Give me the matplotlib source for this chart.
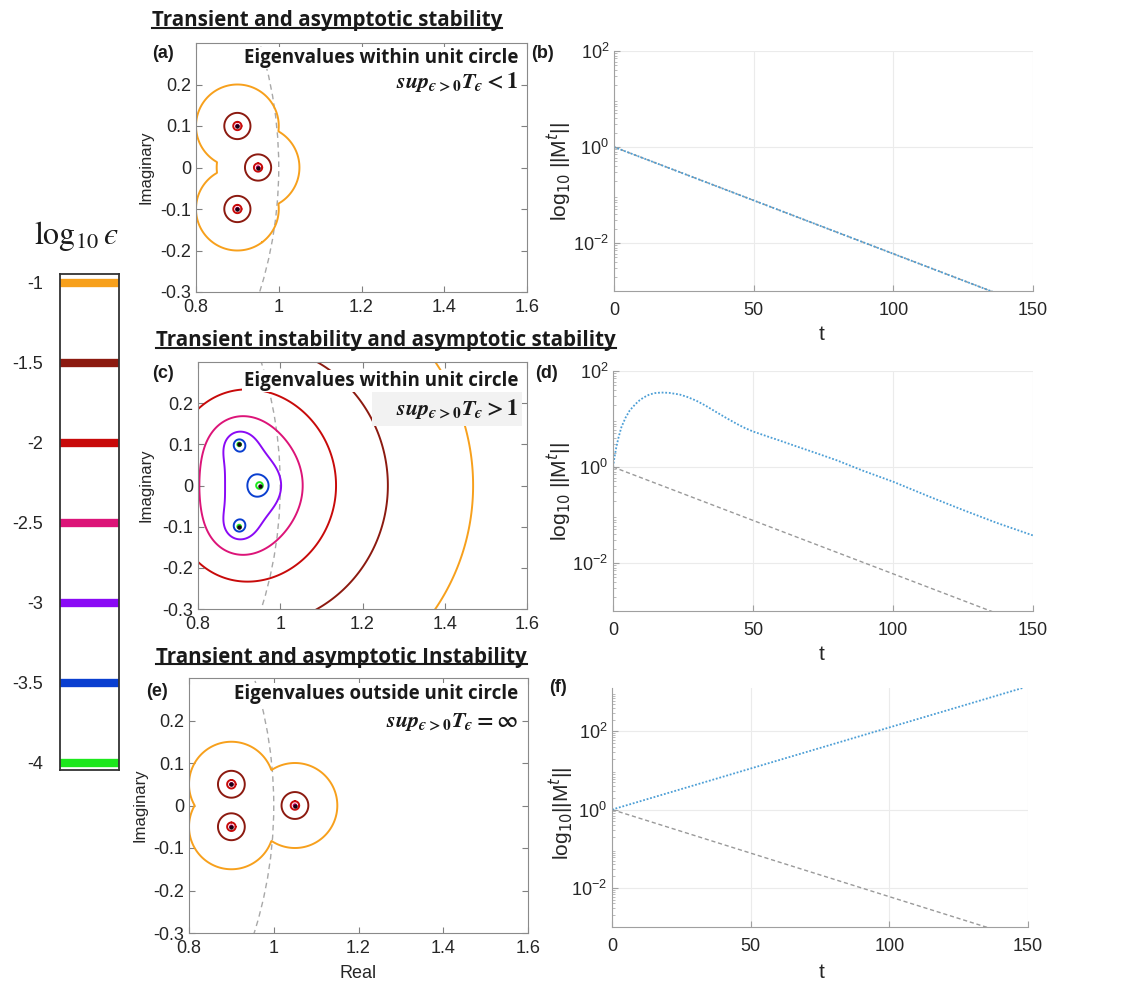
import numpy as np
import matplotlib
matplotlib.use('Agg')
import matplotlib.pyplot as plt
from matplotlib.patches import Circle, Rectangle
from matplotlib.lines import Line2D
from matplotlib.ticker import FixedLocator, LogLocator, NullFormatter

# ---- data ----
eps_levels = [-4, -3.5, -3, -2.5, -2, -1.5, -1]
eps_labels = ['-4', '-3.5', '-3', '-2.5', '-2', '-1.5', '-1']

# eigenvalues of the three example matrices, plus the upper triangular coupling
# (superdiagonal entry, corner entry)
eig_stable = [0.9 + 0.1j, 0.95 + 0j, 0.9 - 0.1j]
coupling_stable = (0.0, 0.0)
eig_transient = [0.9 + 0.1j, 0.95 + 0j, 0.9 - 0.1j]
coupling_transient = (1.0, 0.85)
eig_unstable = [0.9 + 0.05j, 1.05 + 0j, 0.9 - 0.05j]
coupling_unstable = (0.0, 0.0)

# spectral radius decay (grey dashed), same in every right panel
t_rho = [0, 150]
rho_decay = [1.0, 4.6e-4]

# ||M^t|| curves
t_b = [0, 150]
norm_b = [1.0, 4.6e-4]

t_d = [0, 0.5, 1.2, 2, 3, 4.5, 6, 8, 9.5, 11, 13, 15, 17.3, 20, 23.8, 26.5,
       29.8, 33, 37, 40.5, 44, 47, 50, 55, 59.6, 65, 70.3, 75, 79.9, 89.4,
       100.2, 113.3, 125.2, 137.1, 150]
lognorm_d = [0, 0.19, 0.42, 0.62, 0.83, 1.03, 1.18, 1.31, 1.39, 1.45, 1.51,
             1.54, 1.551, 1.545, 1.51, 1.46, 1.38, 1.28, 1.14, 1.02, 0.905,
             0.815, 0.74, 0.64, 0.55, 0.44, 0.335, 0.24, 0.14, -0.08, -0.31,
             -0.625, -0.90, -1.165, -1.426]

t_f = [0, 148]
norm_f = [1.0, 1280.0]

# ---- style ----
eps_colors = ['#1CE81C', '#0A3FD0', '#8A0AF5', '#DC1478', '#C80A0A', '#8C1A10', '#F7A01C']
W, H = 1126, 984

plt.rcParams['font.family'] = ['Liberation Sans', 'DejaVu Sans']
plt.rcParams['axes.unicode_minus'] = False
plt.rcParams['mathtext.rm'] = 'STIXGeneral:bold'
plt.rcParams['mathtext.it'] = 'STIXGeneral:italic:bold'
plt.rcParams['mathtext.bf'] = 'STIXGeneral:bold'


def box(l, t, r, b):
    return [l / W, 1 - b / H, (r - l) / W, (b - t) / H]


def fx(x):
    return x / W


def fy(y):
    return 1 - y / H


def log_sigma_min(eigs, coupling):
    n = len(eigs)
    M = np.diag(np.array(eigs, dtype=complex)) + coupling[0] * np.diag(np.ones(n - 1), 1)
    M[0, n - 1] += coupling[1]
    xs = np.arange(0.78, 1.62, 0.00125)
    ys = np.arange(-0.32, 0.32, 0.00125)
    X, Y = np.meshgrid(xs, ys)
    Z = X + 1j * Y
    A = Z[..., None, None] * np.eye(n) - M
    s = np.linalg.svd(A, compute_uv=False)[..., -1]
    return X, Y, np.log10(s)


def draw_pseudo(ax, eigs, coupling):
    X, Y, L = log_sigma_min(eigs, coupling)
    ax.contour(X, Y, L, levels=eps_levels, colors=eps_colors, linewidths=1.4)
    ax.add_patch(Circle((0, 0), 1, fill=False, ls=(0, (4, 3)), ec='#a8a8a8', lw=1))
    ax.plot(np.real(eigs), np.imag(eigs), 'o', ms=2.2, color='#1a0012', zorder=5)
    ax.set_xlim(0.8, 1.6)
    ax.set_ylim(-0.3, 0.3)
    ax.set_xticks([0.8, 1, 1.2, 1.4, 1.6])
    ax.set_xticklabels(['0.8', '1', '1.2', '1.4', '1.6'])
    ax.set_yticks([-0.3, -0.2, -0.1, 0, 0.1, 0.2])
    ax.set_yticklabels(['-0.3', '-0.2', '-0.1', '0', '0.1', '0.2'])
    ax.tick_params(direction='in', top=True, right=True, labelsize=13,
                   labelcolor='#262626', color='#808080', length=4)
    ax.tick_params(axis='x', pad=5)
    for sp in ax.spines.values():
        sp.set_color('#8a8a8a')


def draw_norm(ax, t, v, ymax):
    ax.plot(t_rho, rho_decay, ls=(0, (3, 2)), color='#9a9a9a', lw=1)
    ax.plot(t, v, ls=(0, (1, 1)), color='#4d9fd6', lw=1.3)
    ax.set_yscale('log')
    ax.set_xlim(0, 150)
    ax.set_ylim(1e-3, ymax)
    ax.set_xticks([0, 50, 100, 150])
    ax.yaxis.set_major_locator(FixedLocator([1e-2, 1, 1e2]))
    ax.yaxis.set_minor_locator(LogLocator(base=10, subs=np.arange(2, 10), numticks=20))
    ax.yaxis.set_minor_formatter(NullFormatter())
    ax.grid(True, which='major', color='#ebebeb', lw=0.8)
    ax.spines['top'].set_visible(False)
    ax.spines['right'].set_visible(False)
    for sp in ('left', 'bottom'):
        ax.spines[sp].set_color('#a0a0a0')
    ax.tick_params(direction='in', labelsize=13, labelcolor='#262626', color='#a0a0a0', length=4)
    ax.tick_params(which='minor', direction='in', color='#b0b0b0', length=2)
    ax.tick_params(axis='x', pad=8)


fig = plt.figure(figsize=(W / 100, H / 100), dpi=100)

ax_a = fig.add_axes(box(196, 43, 527, 292))
ax_c = fig.add_axes(box(198, 362, 527, 609))
ax_e = fig.add_axes(box(189, 678, 528, 933))
ax_b = fig.add_axes(box(614, 51, 1033, 291))
ax_d = fig.add_axes(box(613, 371, 1033, 611))
ax_f = fig.add_axes(box(612, 688, 1028, 927))

draw_pseudo(ax_a, eig_stable, coupling_stable)
draw_pseudo(ax_c, eig_transient, coupling_transient)
draw_pseudo(ax_e, eig_unstable, coupling_unstable)

draw_norm(ax_b, t_b, norm_b, 1e2)
draw_norm(ax_d, t_d, 10 ** np.array(lognorm_d), 1e2)
draw_norm(ax_f, t_f, norm_f, 1280.0)

# axis labels
for y in (167, 485):
    fig.text(fx(146), fy(y), 'Imaginary', rotation=90, ha='center', va='center', fontsize=12, color='#262626')
fig.text(fx(140), fy(805), 'Imaginary', rotation=90, ha='center', va='center', fontsize=12, color='#262626')
fig.text(fx(358), fy(973), 'Real', ha='center', va='center', fontsize=13, color='#262626')
fig.text(fx(560), fy(172), 'log$_{10}$ ||M$^{t}$||', rotation=90, ha='center', va='center',
         fontsize=15, color='#262626', math_fontfamily='dejavusans')
fig.text(fx(560), fy(492), 'log$_{10}$ ||M$^{t}$||', rotation=90, ha='center', va='center',
         fontsize=15, color='#262626', math_fontfamily='dejavusans')
fig.text(fx(562), fy(813), 'log$_{10}$||M$^{t}$||', rotation=90, ha='center', va='center',
         fontsize=15, color='#262626', math_fontfamily='dejavusans')
for y in (335, 655, 972):
    fig.text(fx(822), fy(y), 't', ha='center', va='center', fontsize=15, color='#262626')

# panel letters
for lab, x, y in [('(a)', 163, 53), ('(b)', 543, 53), ('(c)', 163, 373),
                  ('(d)', 547, 373), ('(e)', 157, 692), ('(f)', 558, 687)]:
    fig.text(fx(x), fy(y), lab, ha='center', va='center', fontsize=13, fontweight='bold', color='#1a1a1a')

# annotations inside the spectrum panels
notes = [('Eigenvalues within unit circle', 58, '$sup_{ϵ>0}T_{ϵ} < 1$', 82),
         ('Eigenvalues within unit circle', 381, '$sup_{ϵ>0}T_{ϵ} > 1$', 409),
         ('Eigenvalues outside unit circle', 694, r'$sup_{ϵ>0}T_{ϵ} =\infty$', 722)]
fig.patches.append(Rectangle((fx(372), fy(426)), (522 - 372) / W, (426 - 392) / H,
                             transform=fig.transFigure, fc='#f2f2f2', ec='none', zorder=2))
for txt, y1, mtxt, y2 in notes:
    fig.text(fx(518), fy(y1), txt, ha='right', va='center', fontsize=13.5, fontweight='bold',
             family='Open Sans', color='#1a1a1a', zorder=3,
             bbox=dict(fc='white', ec='none', pad=1))
    fig.text(fx(518), fy(y2), mtxt, ha='right', va='center', fontsize=16, color='#1a1a1a',
             math_fontfamily='custom', zorder=3)

# section headings, underlined
headings = [('Transient and asymptotic stability', 152, 26),
            ('Transient instability and asymptotic stability', 156, 346.5),
            ('Transient and asymptotic Instability', 156, 662.5)]
head_texts = []
for txt, x, y in headings:
    head_texts.append(fig.text(fx(x), fy(y), txt, ha='left', va='baseline', fontsize=14.8,
                               fontweight='bold', family='Open Sans', color='#1a1a1a'))

# epsilon legend on the left
lax = fig.add_axes(box(60, 274, 119, 770))
for lv, c in zip(eps_levels, eps_colors):
    lax.axhline(lv, color=c, lw=6)
lax.set_xlim(0, 1)
lax.set_ylim(-4.044, -0.944)
lax.set_xticks([])
lax.set_yticks(eps_levels)
lax.set_yticklabels(eps_labels)
lax.tick_params(axis='y', length=0, pad=12, labelsize=13, labelcolor='#262626')
for sp in lax.spines.values():
    sp.set_color('#333333')
    sp.set_linewidth(1.3)
fig.text(fx(76), fy(236), r'$\log_{10}ϵ$', ha='center', va='center', fontsize=23,
         math_fontfamily='stix', color='#1a1a1a')

fig.canvas.draw()
for t, (txt, x, y) in zip(head_texts, headings):
    bb = t.get_window_extent()
    fig.add_artist(Line2D([bb.x0 / W, bb.x1 / W], [fy(y + 1.8), fy(y + 1.8)],
                          transform=fig.transFigure, color='#1a1a1a', lw=1.5))

fig.savefig('out.png', dpi=100)
